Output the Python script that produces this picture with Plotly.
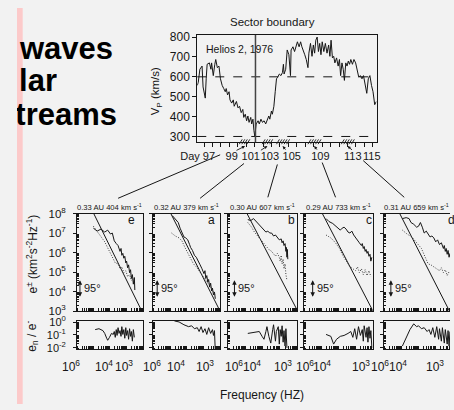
import math
import plotly.graph_objects as go

W, H = 454, 410
def PX(x): return x / W
def PY(y): return 1 - y / H

INK = "#161616"
BG = "#f2f2f2"
PINK = "#fccaca"
FONT = "Liberation Sans"

# ---------------- top panel: Helios 2 proton speed ----------------
vp_day = [96.21, 96.32, 96.51, 96.77, 96.89, 97.08, 97.15, 97.26, 97.37, 97.64,
          97.82, 97.90, 98.10, 98.28, 98.39, 98.58, 98.77, 98.95, 99.15, 99.34,
          99.52, 99.63, 99.79, 99.97, 100.08, 100.28, 100.47, 100.58, 100.84, 101.03,
          101.21, 101.41, 101.60, 101.71, 101.89, 102.05, 102.20, 102.34, 102.54, 102.65,
          102.80, 102.91, 103.02, 103.18, 103.41, 103.55, 103.75, 103.93, 104.12, 104.31,
          104.49, 104.68, 104.80, 104.99, 105.10, 105.28, 105.44, 105.59, 105.73, 105.93,
          106.12, 106.30, 106.41, 106.49, 106.68, 106.86, 107.06, 107.25, 107.32, 107.54,
          107.73, 107.93, 108.07, 108.27, 108.45, 108.60, 108.75, 108.94, 109.12, 109.32,
          109.43, 109.62, 109.80, 109.96, 110.11, 110.25, 110.41, 110.56, 110.71, 110.86,
          111.01, 111.20, 111.38, 111.58, 111.77, 111.92, 112.06, 112.22, 112.37, 112.51,
          112.71, 112.90, 113.05, 113.19, 113.35, 113.50, 113.64, 113.80, 113.95, 114.10,
          114.25, 114.40, 114.59, 114.77, 114.97, 115.16, 115.34, 115.53, 115.72, 115.90,
          116.10, 116.29, 116.47, 116.66, 116.85, 117.03, 117.23, 117.42]
vp_kms = [557, 573, 638, 654, 549, 500, 493, 590, 663, 670,
          638, 670, 606, 663, 687, 646, 654, 590, 557, 541,
          525, 541, 509, 525, 484, 468, 484, 452, 476, 444,
          452, 420, 436, 396, 412, 379, 403, 371, 396, 363,
          387, 331, 300, 363, 379, 363, 387, 371, 379, 363,
          387, 403, 387, 428, 412, 452, 525, 590, 598, 614,
          606, 622, 663, 614, 638, 735, 711, 606, 735, 751,
          727, 760, 776, 751, 776, 751, 727, 711, 687, 646,
          719, 768, 703, 760, 719, 784, 800, 727, 768, 711,
          776, 727, 768, 719, 760, 703, 784, 695, 703, 670,
          695, 654, 687, 606, 670, 638, 582, 670, 654, 679,
          663, 687, 663, 687, 670, 622, 598, 606, 590, 606,
          565, 517, 590, 606, 557, 525, 460, 476]
speed_levels = [300, 600]
sector_boundary_day = 103.1
speed_ticks = [300, 400, 500, 600, 700, 800]
day_labels = ["Day 97", "99", "101", "103", "105", "109", "113", "115"]
day_label_at = [96.25, 100.28, 102.54, 104.80, 107.40, 110.79, 114.63, 116.89]
day_marks = list(range(97, 118))
interval_start = [101.18, 103.89, 105.59, 109.32, 113.27]
interval_end = [102.54, 105.14, 107.06, 110.79, 114.74]

# ---------------- spectra panels ----------------
panel_titles = ["0.33 AU 404 km s<sup>-1</sup>", "0.32 AU 379 km s<sup>-1</sup>",
                "0.30 AU 607 km s<sup>-1</sup>", "0.29 AU 733 km s<sup>-1</sup>",
                "0.31 AU 659 km s<sup>-1</sup>"]
panel_letters = ["e", "a", "b", "c", "d"]
angle_label = "95°"

# log10 frequency / log10 e+ (outward, solid)
eplus_logf = [
    [-5.01, -4.78, -4.55, -4.32, -4.14, -3.97, -3.86, -3.74, -3.62, -3.51, -3.39, -3.33, -3.28, -3.22,
     -3.16, -3.10, -3.04, -2.99, -2.93, -2.87, -2.81, -2.75, -2.70, -2.64, -2.58, -2.52, -2.49],
    [-4.86, -4.69, -4.51, -4.40, -4.29, -4.17, -4.06, -3.94, -3.83, -3.77, -3.66, -3.54, -3.43, -3.31,
     -3.20, -3.09, -2.97, -2.91, -2.86, -2.80, -2.74, -2.69, -2.63, -2.57, -2.51, -2.46, -2.40, -2.34, -2.29],
    [-4.85, -4.68, -4.52, -4.36, -4.25, -4.14, -4.03, -3.92, -3.81, -3.70, -3.59, -3.48, -3.37, -3.26,
     -3.15, -3.04, -2.93, -2.88, -2.82, -2.77, -2.71, -2.66, -2.63, -2.60, -2.58, -2.55],
    [-4.72, -4.55, -4.33, -4.17, -4.00, -3.89, -3.78, -3.67, -3.55, -3.44, -3.33, -3.22, -3.11, -3.00,
     -2.89, -2.78, -2.66, -2.61, -2.55, -2.50, -2.44, -2.39, -2.33, -2.28, -2.22, -2.16, -2.11, -2.05],
    [-4.94, -4.72, -4.55, -4.44, -4.28, -4.11, -4.00, -3.89, -3.78, -3.67, -3.55, -3.44, -3.33, -3.22,
     -3.11, -3.00, -2.89, -2.78, -2.67, -2.55, -2.50, -2.44, -2.39, -2.33, -2.28, -2.22, -2.17],
]
eplus_loge = [
    [7.26, 7.11, 7.21, 7.06, 7.16, 6.96, 7.01, 6.61, 6.47, 6.37, 6.07, 6.22, 5.87, 5.97,
     5.72, 5.82, 5.48, 5.57, 5.23, 5.38, 4.98, 5.13, 4.68, 4.88, 4.39, 4.73, 4.09],
    [7.90, 7.70, 7.55, 7.26, 7.01, 6.81, 6.76, 6.66, 6.42, 6.27, 6.12, 5.87, 5.77, 5.52,
     5.38, 5.18, 4.93, 5.08, 4.68, 4.83, 4.49, 4.63, 4.24, 4.44, 4.04, 4.19, 3.84, 3.99, 3.64],
    [7.70, 7.65, 7.75, 7.60, 7.50, 7.36, 7.26, 7.16, 7.06, 7.11, 7.01, 7.01, 6.86, 6.91,
     6.76, 6.66, 6.71, 6.51, 6.61, 6.37, 6.47, 6.07, 6.27, 5.77, 6.17, 5.67],
    [7.75, 7.60, 7.50, 7.36, 7.21, 7.16, 7.26, 7.31, 7.21, 7.06, 7.01, 7.11, 6.91, 6.76,
     6.66, 6.51, 6.37, 6.47, 6.22, 6.32, 6.07, 6.17, 5.97, 6.07, 5.82, 5.92, 5.57, 5.77],
    [7.75, 7.80, 7.75, 7.55, 7.46, 7.31, 7.36, 7.55, 7.31, 7.01, 7.11, 6.96, 6.81, 6.86,
     6.76, 6.56, 6.66, 6.42, 6.51, 6.22, 6.37, 6.07, 6.22, 5.92, 6.12, 5.77, 5.97],
]
# e- (inward, dotted)
eminus_logf = [
    [-5.01, -4.78, -4.55, -4.32, -4.09, -3.86, -3.68, -3.51, -3.39, -3.28, -3.16, -3.04, -2.93, -2.81, -2.70, -2.58],
    [-4.91, -4.69, -4.46, -4.29, -4.11, -3.94, -3.77, -3.60, -3.43, -3.26, -3.09, -2.91, -2.74, -2.57, -2.40, -2.29],
    [-4.85, -4.63, -4.47, -4.25, -4.03, -3.81, -3.64, -3.48, -3.37, -3.26, -3.15, -3.04, -2.99, -2.93,
     -2.88, -2.82, -2.77, -2.71, -2.66, -2.60],
    [-4.72, -4.44, -4.17, -3.94, -3.72, -3.50, -3.33, -3.16, -3.00, -2.89, -2.78, -2.66, -2.55, -2.44,
     -2.33, -2.22, -2.11],
    [-4.94, -4.67, -4.39, -4.11, -3.83, -3.61, -3.44, -3.28, -3.11, -2.94, -2.78, -2.67, -2.55, -2.44, -2.33, -2.22],
]
eminus_loge = [
    [7.36, 7.11, 6.86, 6.56, 6.17, 5.77, 5.48, 5.43, 5.18, 5.28, 4.98, 5.08, 4.78, 4.88, 4.58, 4.68],
    [7.01, 6.86, 6.76, 6.61, 6.27, 5.97, 5.67, 5.43, 5.28, 5.08, 4.88, 4.68, 4.44, 4.24, 3.99, 3.79],
    [7.55, 7.31, 7.06, 6.81, 6.56, 6.32, 6.17, 6.07, 5.92, 5.82, 5.97, 5.77, 5.57, 5.87,
     5.43, 5.67, 5.18, 5.43, 4.88, 4.58],
    [6.91, 6.76, 6.51, 6.22, 5.82, 5.52, 5.28, 5.18, 5.08, 5.28, 4.98, 5.18, 4.88, 5.13,
     4.83, 5.08, 4.78],
    [7.16, 6.96, 6.81, 6.51, 6.22, 5.77, 5.43, 5.38, 5.28, 5.18, 5.08, 5.23, 4.98, 5.13, 4.83, 5.03],
]
# straight reference slope: end points (log f, log e)
slope_logf = [[-5.07, -2.06], [-4.95, -2.0], [-4.89, -1.95], [-4.93, -1.95], [-5.09, -2.0]]
slope_loge = [[8.15, 3.0], [8.0, 3.0], [8.0, 2.95], [8.0, 2.95], [8.0, 2.67]]

# ratio e_n / e-
ratio_logf = [
    [-4.90, -4.67, -4.43, -4.32, -4.20, -4.14, -4.03, -3.91, -3.80, -3.74, -3.68, -3.62, -3.57, -3.51,
     -3.45, -3.39, -3.33, -3.28, -3.22, -3.16, -3.10, -3.04, -2.99, -2.93, -2.87, -2.81, -2.75, -2.70,
     -2.64, -2.58, -2.52],
    [-4.74, -4.46, -4.17, -3.89, -3.71, -3.54, -3.37, -3.26, -3.14, -3.03, -2.91, -2.80, -2.69, -2.57,
     -2.46, -2.40, -2.34, -2.29],
    [-4.85, -4.52, -4.19, -4.03, -3.92, -3.81, -3.75, -3.64, -3.53, -3.42, -3.37, -3.26, -3.21, -3.10,
     -3.04, -2.99, -2.93, -2.88, -2.82, -2.77, -2.71, -2.66, -2.63, -2.60],
    [-4.72, -4.44, -4.28, -4.11, -3.89, -3.67, -3.44, -3.28, -3.16, -3.05, -2.94, -2.83, -2.72, -2.61,
     -2.55, -2.50, -2.39, -2.33, -2.28, -2.22, -2.16, -2.11, -2.05],
    [-4.94, -4.72, -4.50, -4.28, -4.11, -4.00, -3.83, -3.67, -3.50, -3.39, -3.28, -3.17, -3.05, -2.94,
     -2.83, -2.78, -2.67, -2.61, -2.50, -2.44, -2.33, -2.28, -2.22, -2.17],
]
ratio_logr = [
    [-0.58, -0.51, -0.66, -0.88, -1.26, -1.42, -1.19, -0.88, -0.96, -0.73, -1.19, -0.58, -1.04, -0.43,
     -0.88, -0.66, -1.11, -0.35, -0.96, -0.58, -1.26, -0.43, -1.04, -0.66, -1.34, -0.51, -1.11, -0.73,
     -1.49, -0.58, -1.19],
    [0.10, 0.02, -0.20, -0.35, -0.28, -0.51, -0.43, -0.73, -0.35, -0.81, -0.51, -0.96, -0.43, -0.88,
     -0.58, -1.04, -0.66, -2.32],
    [-0.88, -0.81, -0.73, -1.11, -1.34, -0.73, -0.35, -1.11, -1.64, -0.58, -0.20, -1.49, -0.73, -0.35,
     -1.72, -0.58, -1.11, -0.28, -1.57, -0.66, -1.87, -0.51, -1.49, -2.02],
    [-0.96, -1.11, -1.72, -1.34, -1.11, -1.04, -0.88, -0.73, -1.19, -0.51, -1.34, -0.35, -1.04, -0.58,
     -1.49, -0.28, -1.19, -0.43, -1.57, -0.35, -1.26, -0.66, -2.02],
    [-1.87, -1.26, -0.58, -0.13, -0.35, -0.28, -0.51, -0.43, -0.73, -0.58, -0.96, -0.43, -1.19, -0.35,
     -1.34, -0.51, -1.49, -0.43, -1.64, -0.58, -1.72, -0.66, -1.87, -0.73],
]
spec_ticks = [3, 4, 5, 6, 7, 8]
spec_ticktext = ["10<sup>%d</sup>" % v for v in spec_ticks]
ratio_ticks = [0, -1, -2]
ratio_ticktext = ["10<sup>0</sup>", "10<sup>-1</sup>", "10<sup>-2</sup>"]
freq_ticktext = ["10<sup>6</sup>", "10<sup>4</sup>", "10<sup>3</sup>"]
freq_label_at = [[-6.4, -4.38, -3.16], [-6.06, -4.63, -2.91], [-5.67, -4.58, -2.80],
                 [-5.95, -4.95, -2.67], [-6.22, -5.2, -3.06]]

# ---------------- layout geometry (pixels) ----------------
panel_left = [63, 143, 221, 301, 385]
panel_right = [132, 213, 294, 373, 457]
SPEC_TOP, SPEC_BOT = 213, 314
RAT_TOP, RAT_BOT = 324, 353
FREQ_LO, FREQ_HI = -6.0, -2.0
mark_dx = [3, 4, 7, 9, 7]
letter_px = [120, 204, 288, 369, 456]
STRIP = 6

def ann(text, x, y, size, xanchor="center", yanchor="middle", **kw):
    d = dict(text=text, x=x, y=y, xref="paper", yref="paper", xanchor=xanchor,
             yanchor=yanchor, showarrow=False, font=dict(size=size, color=INK))
    d.update(kw)
    return d

fig = go.Figure()
line_k = dict(color=INK, width=1)

fig.add_trace(go.Scatter(x=vp_day, y=vp_kms, mode="lines", line=line_k,
                         xaxis="x", yaxis="y", hoverinfo="skip"))

freq_minor = [n + math.log10(k) for n in range(-6, -1) for k in range(1, 10)
              if -6.0001 < n + math.log10(k) <= -2.0001]
spec_minor = [n + math.log10(k) for n in range(3, 8) for k in range(2, 10)]
ratio_minor = [n + math.log10(k) for n in (-3, -2, -1) for k in range(2, 10)
               if -2.1 < n + math.log10(k) < 0.1]

layout_axes = {}
layout_axes["xaxis"] = dict(
    domain=[PX(189), PX(377)], range=[96.2, 117.45], anchor="y",
    showline=True, mirror=True, linecolor=INK, linewidth=1, showgrid=False, zeroline=False,
    tickmode="array", tickvals=day_label_at, ticktext=day_labels, tickangle=0,
    ticks="outside", ticklen=4, tickcolor="rgba(0,0,0,0)", tickfont=dict(size=11, color=INK),
    minor=dict(tickmode="array", tickvals=day_marks, ticks="outside", ticklen=4,
               tickcolor=INK, tickwidth=1, showgrid=False))
layout_axes["yaxis"] = dict(
    domain=[PY(139), PY(28)], range=[271, 810], anchor="x",
    showline=True, mirror=True, linecolor=INK, linewidth=1, showgrid=False, zeroline=False,
    tickmode="array", tickvals=speed_ticks, ticks="outside", ticklen=4, tickcolor=INK,
    tickfont=dict(size=12, color=INK))

annotations = []
shapes = []

for i in range(5):
    L, R = panel_left[i], panel_right[i]
    Rv = min(R, W)
    xhi = FREQ_LO + (FREQ_HI - FREQ_LO) * (Rv - L) / (R - L)
    sx, sy = "x%d" % (2 + i), "y%d" % (2 + i)
    rx, ry = "x%d" % (7 + i), "y%d" % (7 + i)
    mir_y = R <= W

    fig.add_trace(go.Scatter(x=slope_logf[i], y=slope_loge[i], mode="lines", line=line_k,
                             xaxis=sx, yaxis=sy, hoverinfo="skip"))
    fig.add_trace(go.Scatter(x=eminus_logf[i], y=eminus_loge[i], mode="lines",
                             line=dict(color="#3a3a3a", width=1, dash="1px,1.6px"),
                             xaxis=sx, yaxis=sy, hoverinfo="skip"))
    fig.add_trace(go.Scatter(x=eplus_logf[i], y=eplus_loge[i], mode="lines", line=line_k,
                             xaxis=sx, yaxis=sy, hoverinfo="skip"))
    fig.add_trace(go.Scatter(x=ratio_logf[i], y=ratio_logr[i], mode="lines", line=line_k,
                             xaxis=rx, yaxis=ry, hoverinfo="skip"))

    xcommon = dict(domain=[PX(L), PX(Rv)], range=[FREQ_LO, xhi],
                   showline=True, mirror=True, linecolor=INK, linewidth=1,
                   showgrid=False, zeroline=False, showticklabels=False, ticks="",
                   minor=dict(tickmode="array", tickvals=freq_minor, ticks="inside",
                              ticklen=3, tickcolor=INK, showgrid=False))
    layout_axes["xaxis%d" % (2 + i)] = dict(xcommon, anchor=sy)
    layout_axes["xaxis%d" % (7 + i)] = dict(xcommon, anchor=ry)
    layout_axes["yaxis%d" % (2 + i)] = dict(
        domain=[PY(SPEC_BOT), PY(SPEC_TOP)], range=[3, 8], anchor=sx,
        showline=True, mirror=mir_y, linecolor=INK, linewidth=1, showgrid=False, zeroline=False,
        tickmode="array", tickvals=spec_ticks, ticktext=spec_ticktext,
        showticklabels=(i == 0), ticks="outside", ticklen=3, tickcolor=INK,
        ticklabelstandoff=5, tickfont=dict(size=11.5, color=INK),
        minor=dict(tickmode="array", tickvals=spec_minor, ticks="inside", ticklen=2,
                   tickcolor=INK, showgrid=False))
    layout_axes["yaxis%d" % (7 + i)] = dict(
        domain=[PY(RAT_BOT), PY(RAT_TOP)], range=[-2.1, 0.1], anchor=rx,
        showline=True, mirror=mir_y, linecolor=INK, linewidth=1, showgrid=False, zeroline=False,
        tickmode="array", tickvals=ratio_ticks, ticktext=ratio_ticktext,
        showticklabels=(i == 0), ticks="outside", ticklen=3, tickcolor=INK,
        ticklabelstandoff=5, tickfont=dict(size=11, color=INK),
        minor=dict(tickmode="array", tickvals=ratio_minor, ticks="inside", ticklen=2,
                   tickcolor=INK, showgrid=False))

    annotations.append(ann(panel_titles[i], PX((L + min(R, 452)) / 2), PY(206), 7.6))
    annotations.append(ann(panel_letters[i], PX(letter_px[i]), PY(220), 12))
    annotations.append(dict(text="", x=PX(L + mark_dx[i]), y=PY(282), xref="paper", yref="paper",
                            showarrow=True, ax=0, ay=18, arrowhead=2, arrowside="end+start",
                            arrowsize=0.9, arrowwidth=1, arrowcolor=INK, standoff=0, startstandoff=0))
    annotations.append(ann(angle_label, PX(L + mark_dx[i] + 2), PY(290), 11, xanchor="left"))
    for pos, txt in zip(freq_label_at[i], freq_ticktext):
        xpix = L + (pos - FREQ_LO) / (FREQ_HI - FREQ_LO) * (R - L)
        annotations.append(ann(txt, PX(xpix), PY(371), 12))

# top panel decorations
for lvl in speed_levels:
    shapes.append(dict(type="line", xref="x domain", yref="y", x0=0, x1=1, y0=lvl, y1=lvl,
                       line=dict(color=INK, width=1, dash="dash")))
shapes.append(dict(type="line", xref="x", yref="y domain", x0=sector_boundary_day,
                   x1=sector_boundary_day, y0=0, y1=1, line=dict(color="#444444", width=1.5)))

arrow_offsets = [(-10, 5), (-8, 5), (4, 5), (4, 5), (6, 5)]
for (s, e), (ax, ay) in zip(zip(interval_start, interval_end), arrow_offsets):
    d = s
    while d + 0.3 <= e + 0.05:
        shapes.append(dict(type="line", xref="x", yref="paper", x0=d, x1=d + 0.35,
                           y0=PY(141), y1=PY(136), line=dict(color=INK, width=0.9)))
        d += 0.3
    annotations.append(dict(text="", x=(s + e) / 2, y=PY(143), xref="x", yref="paper",
                            showarrow=True, ax=ax, ay=ay, arrowhead=2, arrowsize=0.7,
                            arrowwidth=0.9, arrowcolor=INK, standoff=0))

connectors = [((213, 152), (106, 197)), ((238, 161), (192, 197)), ((273, 162), (263, 196)),
              ((320, 160), (334, 196)), ((363, 158), (406, 196))]
for (x0, y0), (x1, y1) in connectors:
    shapes.append(dict(type="line", xref="paper", yref="paper", x0=PX(x0), y0=PY(y0),
                       x1=PX(x1), y1=PY(y1), line=dict(color=INK, width=1)))

annotations += [
    ann("Sector boundary", PX(268), PY(15), 11.5),
    ann("Helios 2, 1976", PX(196), PY(42), 10.5, xanchor="left"),
    ann("V<sub>P</sub> (km/s)", PX(146), PY(86), 11.5, textangle=-90),
    ann("e<sup>±</sup> (km<sup>2</sup>s<sup>-2</sup>Hz<sup>-1</sup>)", PX(16), PY(255), 12, textangle=-90),
    ann("e<sub>n</sub> / e<sup>-</sup>", PX(16), PY(340), 12, textangle=-90),
    ann("Frequency (HZ)", PX(257), PY(401), 12),
]
# slide title fragments, clipped at the pink side strip
slide_lines = ["waves", "olar", "streams"]
slide_right = [102, 43, 106]
slide_mid = [41, 75, 110]
for t, r, m in zip(slide_lines, slide_right, slide_mid):
    a = ann("<b>%s</b>" % t, PX(r), PY(m), 31, xanchor="right",
            width=r - STRIP, align="right", borderpad=0, height=38)
    a["font"] = dict(size=31, color="#000000", family="Liberation Sans")
    annotations.append(a)
shapes.append(dict(type="rect", xref="paper", yref="paper", x0=0, x1=PX(STRIP), y0=0, y1=1,
                   fillcolor=PINK, line=dict(width=0), layer="above"))

fig.update_layout(
    width=W, height=H, margin=dict(l=0, r=0, t=0, b=0),
    paper_bgcolor=BG, plot_bgcolor=BG, showlegend=False,
    font=dict(family=FONT, color=INK, size=12),
    annotations=annotations, shapes=shapes, **layout_axes)

fig.write_html(
    "out.html",
    post_script=("document.documentElement.style.margin='0';"
                 "document.body.style.margin='0';document.body.style.padding='0';"
                 "document.body.style.background='%s';" % BG))
